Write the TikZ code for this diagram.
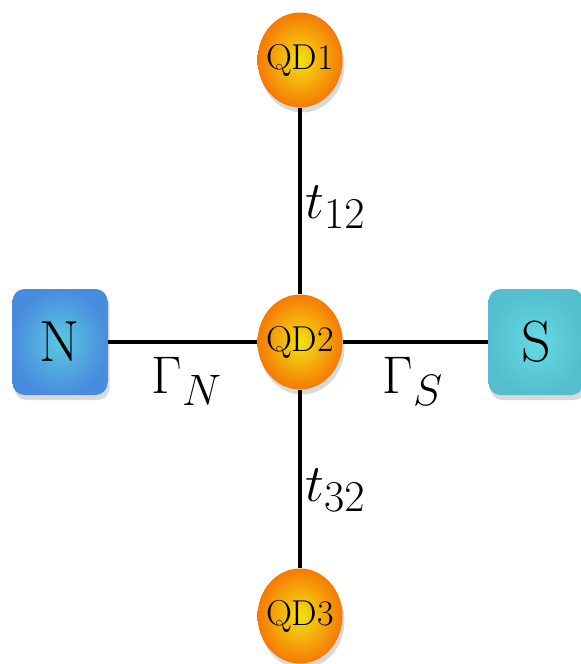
\documentclass[tikz,border=0pt]{standalone}
\usepackage{fix-cm}
\usepackage{amsmath}
\usetikzlibrary{shapes.geometric,shadows}

\DeclareMathSizes{26.5}{26.5}{22}{18}

\definecolor{dotin}{RGB}{242,226,18}
\definecolor{dotout}{RGB}{246,122,4}
\definecolor{nin}{RGB}{92,200,225}
\definecolor{nout}{RGB}{72,140,222}
\definecolor{sin}{RGB}{100,218,228}
\definecolor{sout}{RGB}{84,190,206}

\begin{document}
\begin{tikzpicture}[x=0.5pt, y=-0.5pt,
  qdot/.style={ellipse, minimum width=42.5pt, minimum height=47.5pt, inner ysep=0pt,
    inner xsep=-3.5pt, inner color=dotin, outer color=dotout,
    drop shadow={shadow xshift=1pt, shadow yshift=-2.5pt, opacity=0.3},
    font=\fontsize{18}{21}\selectfont},
  lead/.style={rounded corners=6pt, minimum width=47.5pt, minimum height=53pt, inner sep=0pt,
    drop shadow={shadow xshift=1pt, shadow yshift=-2.5pt, opacity=0.3},
    font=\fontsize{29}{34}\selectfont},
  link/.style={line width=2pt},
  lbl/.style={font=\fontsize{26.5}{31}\selectfont, inner sep=0pt}]
  \useasboundingbox (0,0) rectangle (581,664);
  % dots and leads
  \node[qdot] (QD1) at (300,60) {QD1};
  \node[qdot] (QD2) at (300,342) {QD2};
  \node[qdot] (QD3) at (300,616) {QD3};
  \node[lead, inner color=nin, outer color=nout] (N) at (60,342) {N};
  \node[lead, inner color=sin, outer color=sout] (S) at (536,342) {S};
  % couplings
  \draw[link] (QD1) -- (QD2);
  \draw[link] (QD2) -- (QD3);
  \draw[link] (N) -- (QD2);
  \draw[link] (QD2) -- (S);
  % labels
  \node[lbl, anchor=west] (t12) at (305,207) {$t_{12}$};
  \node[lbl, anchor=west] (t32) at (305,490) {$t_{32}$};
  \node[lbl] (GN) at (187,381) {$\Gamma_N$};
  \node[lbl] (GS) at (413,381) {$\Gamma_S$};
\end{tikzpicture}
\end{document}
